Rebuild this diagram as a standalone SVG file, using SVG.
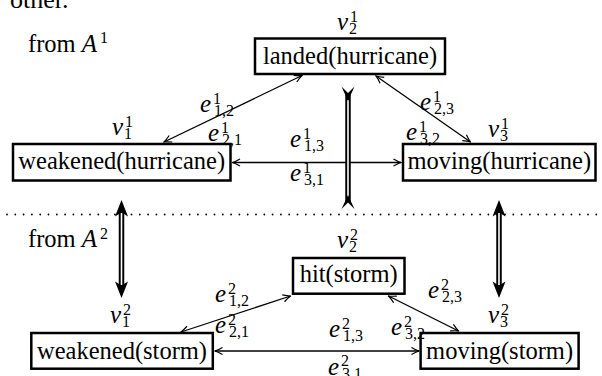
<svg xmlns="http://www.w3.org/2000/svg" width="602" height="376" viewBox="0 0 602 376" font-family="'Liberation Serif', 'DejaVu Serif', serif">
<style>
text{font-family:'Liberation Serif','DejaVu Serif',serif;fill:#000}
.t{font-size:24.5px}
.c{text-anchor:middle}
.m{font-size:25px;font-style:italic}
.s{font-size:16px}
.box{fill:#fff;stroke:#000;stroke-width:2.5}
.edge{fill:none;stroke:#000;stroke-width:1.3}
.dbl{stroke:#000;stroke-width:5.5}
.dblin{stroke:#fff;stroke-width:1.6}
.head{fill:#000}
</style>
<defs>
<marker id="ah" markerUnits="userSpaceOnUse" viewBox="-9 -5 10 10" refX="0" refY="0" markerWidth="10" markerHeight="10" orient="auto-start-reverse">
<path d="M-7.5,-3.6 Q-2.6,-0.8 0,0 Q-2.6,0.8 -7.5,3.6" fill="none" stroke="#000" stroke-width="1.2"/>
</marker>
</defs>
<rect width="602" height="376" fill="#fff"/>
<text class="t" x="10" y="8" style="font-size:26px">other.</text>
<text class="t" x="28" y="52">from <tspan class="m">A</tspan></text>
<text class="s" x="100" y="43">1</text>
<text class="t" x="28" y="246.5">from <tspan class="m">A</tspan></text>
<text class="s" x="100" y="239">2</text>
<line x1="7" y1="214.5" x2="602" y2="214.5" stroke="#000" stroke-width="1.8" stroke-linecap="round" stroke-dasharray="0 8.3"/>
<g id="connectors">
<line class="edge" x1="302" y1="75.5" x2="164" y2="142" marker-start="url(#ah)" marker-end="url(#ah)"/>
<line class="edge" x1="376" y1="76" x2="470.5" y2="142" marker-start="url(#ah)" marker-end="url(#ah)"/>
<line class="edge" x1="232.5" y1="162.5" x2="401" y2="162.5" marker-start="url(#ah)" marker-end="url(#ah)"/>
<line class="edge" x1="290.5" y1="296" x2="181" y2="332" marker-start="url(#ah)" marker-end="url(#ah)"/>
<line class="edge" x1="388.5" y1="296" x2="458.5" y2="331" marker-start="url(#ah)" marker-end="url(#ah)"/>
<line class="edge" x1="215" y1="351" x2="419" y2="351" marker-start="url(#ah)" marker-end="url(#ah)"/>
<g id="dbl-mid">
<line class="dbl" x1="348" y1="95" x2="348" y2="202"/>
<line class="dblin" x1="348" y1="100" x2="348" y2="197"/>
<path class="head" d="M341.5,86.5 L348,101 L354.5,86.5 L348,93 Z"/>
<path class="head" d="M341.5,209 L348,195 L354.5,209 L348,202.5 Z"/>
</g>
<g id="dbl-left">
<line class="dbl" x1="121.5" y1="210" x2="121.5" y2="288"/>
<line class="dblin" x1="121.5" y1="213" x2="121.5" y2="285"/>
<path class="head" d="M121.5,200 L128,216.5 L121.5,212.5 L115,216.5 Z"/>
<path class="head" d="M121.5,298 L128,281.5 L121.5,285.5 L115,281.5 Z"/>
</g>
<g id="dbl-right">
<line class="dbl" x1="499" y1="210" x2="499" y2="288"/>
<line class="dblin" x1="499" y1="213" x2="499" y2="285"/>
<path class="head" d="M499,200 L505.5,216.5 L499,212.5 L492.5,216.5 Z"/>
<path class="head" d="M499,298 L505.5,281.5 L499,285.5 L492.5,281.5 Z"/>
</g>
</g>
<g id="n-landed">
<rect class="box" x="255" y="38.5" width="190" height="35.5"/>
<text class="t c" x="350" y="64">landed(hurricane)</text>
<text class="m" x="337" y="30">v</text><text class="s" x="350" y="22">1</text><text class="s" x="349" y="34">2</text>
</g>
<g id="n-weak1">
<rect class="box" x="13" y="144" width="217.5" height="36.5"/>
<text class="t c" x="121.75" y="168.5">weakened(hurricane)</text>
<text class="m" x="112" y="135">v</text><text class="s" x="125" y="127">1</text><text class="s" x="124" y="139">1</text>
</g>
<g id="n-moving1">
<rect class="box" x="403" y="144" width="192.5" height="36.5"/>
<text class="t c" x="499.25" y="168.5">moving(hurricane)</text>
<text class="m" x="488" y="137">v</text><text class="s" x="501" y="129">1</text><text class="s" x="500" y="141">3</text>
</g>
<g id="n-hit">
<rect class="box" x="293" y="258" width="111.5" height="35.7"/>
<text class="t c" x="348.75" y="282">hit(storm)</text>
<text class="m" x="337" y="248">v</text><text class="s" x="350" y="240">2</text><text class="s" x="349" y="252">2</text>
</g>
<g id="n-weak2">
<rect class="box" x="31.3" y="333" width="181.5" height="35.7"/>
<text class="t c" x="122" y="358.5">weakened(storm)</text>
<text class="m" x="110" y="323">v</text><text class="s" x="123" y="315">2</text><text class="s" x="122" y="327">1</text>
</g>
<g id="n-moving2">
<rect class="box" x="420.6" y="333" width="158" height="35.7"/>
<text class="t c" x="499.6" y="358.5">moving(storm)</text>
<text class="m" x="488" y="323">v</text><text class="s" x="501" y="315">2</text><text class="s" x="500" y="327">3</text>
</g>
<g id="edge-labels">
<text class="m" x="200" y="112">e</text><text class="s" x="213" y="104">1</text><text class="s" x="214" y="116">1,2</text>
<text class="m" x="208" y="141">e</text><text class="s" x="221" y="133">1</text><text class="s" x="222" y="145">2,1</text>
<text class="m" x="420" y="110">e</text><text class="s" x="433" y="102">1</text><text class="s" x="434" y="114">2,3</text>
<text class="m" x="406" y="140">e</text><text class="s" x="419" y="132">1</text><text class="s" x="420" y="144">3,2</text>
<text class="m" x="290" y="147">e</text><text class="s" x="303" y="139">1</text><text class="s" x="304" y="151">1,3</text>
<text class="m" x="290" y="181">e</text><text class="s" x="303" y="173">1</text><text class="s" x="304" y="185">3,1</text>
<text class="m" x="215" y="302">e</text><text class="s" x="228" y="294">2</text><text class="s" x="229" y="306">1,2</text>
<text class="m" x="215" y="333">e</text><text class="s" x="228" y="325">2</text><text class="s" x="229" y="337">2,1</text>
<text class="m" x="428" y="298">e</text><text class="s" x="441" y="290">2</text><text class="s" x="442" y="302">2,3</text>
<text class="m" x="329" y="337">e</text><text class="s" x="342" y="329">2</text><text class="s" x="343" y="341">1,3</text>
<text class="m" x="391" y="335">e</text><text class="s" x="404" y="327">2</text><text class="s" x="405" y="339">3,2</text>
<text class="m" x="328" y="375">e</text><text class="s" x="341" y="366">2</text><text class="s" x="342" y="379">3,1</text>
</g>
</svg>
